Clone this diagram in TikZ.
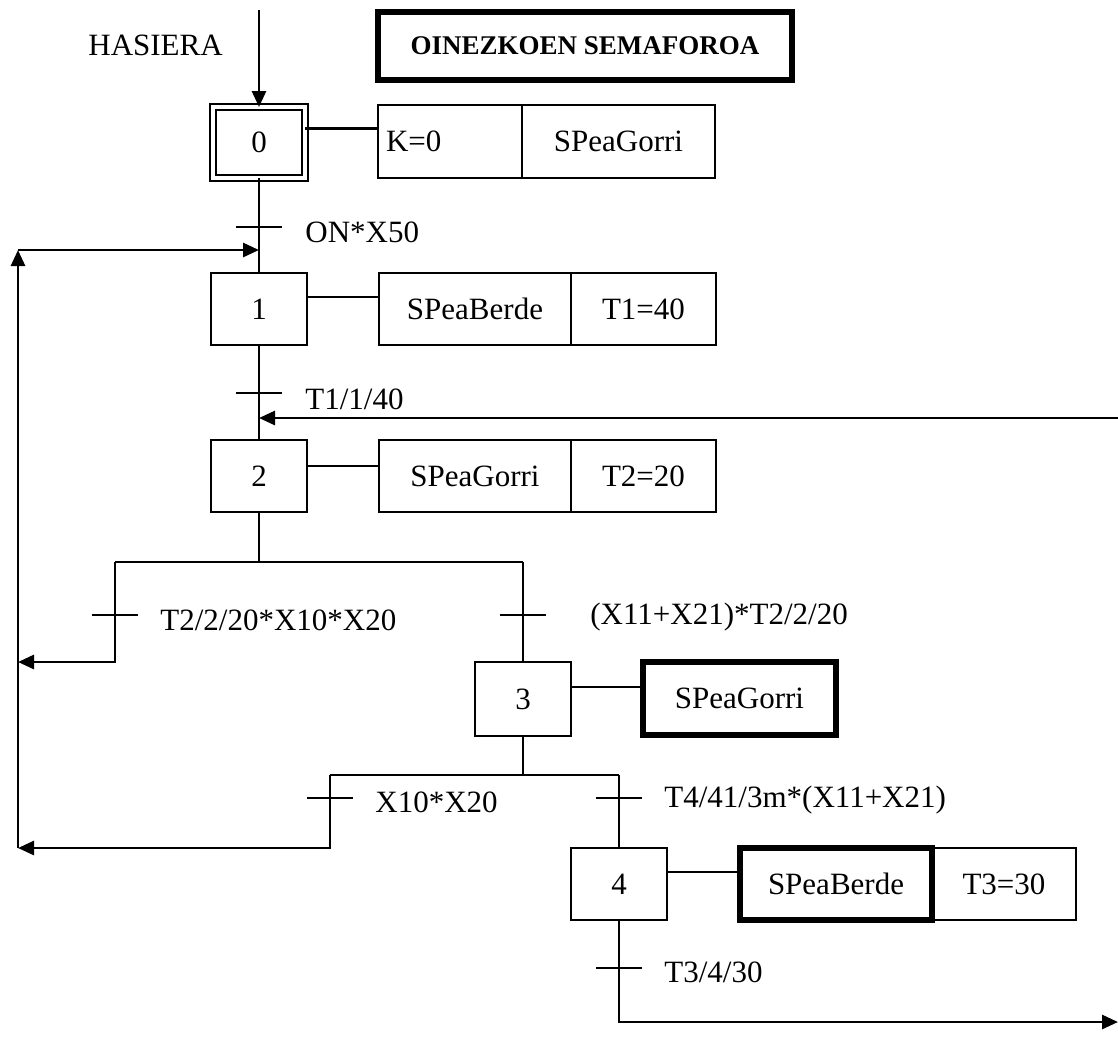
\documentclass[tikz,border=0pt]{standalone}
\usepackage{fontspec}
\setmainfont{Liberation Serif}
\usetikzlibrary{arrows.meta,calc}
\begin{document}
\begin{tikzpicture}[x=0.5pt,y=-0.5pt,
  font=\fontsize{15.5}{18}\selectfont,
  ln/.style={line width=1.4pt},
  stepbox/.style={draw,line width=1.4pt,minimum width=48pt,minimum height=36pt,inner sep=0pt,outer sep=0pt},
  actbox/.style={draw,line width=1.4pt,minimum height=36pt,inner sep=0pt,outer sep=0pt},
  boldbox/.style={actbox,line width=2.6pt},
  arr/.style={ln,-{Triangle[length=8pt,width=7pt]}},
  lbl/.style={anchor=west,inner sep=0pt},
  tickbar/.style={ln},
]
\useasboundingbox (0,0) rectangle (1118,1046);

% title and start
\node[lbl] (hasiera) at (88,45) {HASIERA};
\node[draw,line width=3.2pt,minimum width=207pt,minimum height=34pt,inner sep=0pt,
      font=\fontsize{13.5}{16}\selectfont\bfseries] (title) at (585,46) {OINEZKOEN SEMAFOROA};
\coordinate (start) at (259,10);

% steps
\node[stepbox,double,line width=1.1pt,double distance=1.8pt,minimum width=46pt,minimum height=35.5pt] (s0) at (259,142.5) {0};
\node[stepbox] (s1) at (259,309) {1};
\node[stepbox] (s2) at (259,476) {2};
\node[stepbox,minimum height=37pt] (s3) at (523,699) {3};
\node[stepbox] (s4) at (619,884) {4};

% actions
\node[actbox,minimum height=36.5pt,text width=64pt,inner xsep=4pt,align=left] (a0a) at (450,141.5) {K=0};
\node[actbox,minimum height=36.5pt,minimum width=96.5pt,anchor=west] (a0b) at (a0a.east) {SPeaGorri};
\node[actbox,minimum width=96pt] (a1a) at (475,309) {SPeaBerde};
\node[actbox,minimum width=72.5pt,anchor=west] (a1b) at (a1a.east) {T1=40};
\node[actbox,minimum width=96pt] (a2a) at (475,476) {SPeaGorri};
\node[actbox,minimum width=72.5pt,anchor=west] (a2b) at (a2a.east) {T2=20};
\node[boldbox,minimum width=96.5pt,minimum height=36.5pt] (a3) at (739.5,698.5) {SPeaGorri};
\node[actbox,minimum width=72pt] (a4b) at (1004,884) {T3=30};
\node[boldbox,minimum width=96pt] (a4a) at (836,884) {SPeaBerde};

% step-action links
\coordinate (c0) at ([yshift=7pt]s0.east);
\coordinate (c1) at ([yshift=6pt]s1.east);
\coordinate (c2) at ([yshift=5pt]s2.east);
\coordinate (c3) at ([yshift=6pt]s3.east);
\coordinate (c4) at ([yshift=6pt]s4.east);
\draw[ln] (c0) -- (c0 -| a0a.west);
\draw[ln] (c1) -- (c1 -| a1a.west);
\draw[ln] (c2) -- (c2 -| a2a.west);
\draw[ln] (c3) -- (c3 -| a3.west);
\draw[ln] (c4) -- (c4 -| a4a.west);

% main line
\draw[arr] (start) -- (s0.north);
\draw[ln] (s0.south) -- (s1.north);
\draw[ln] (s1.south) -- (s2.north);

% transitions on main line
\coordinate (t01) at (259,227);
\draw[tickbar] ([xshift=-11.5pt]t01) -- ([xshift=11.5pt]t01);
\node[lbl] (l01) at (305,232) {ON*X50};
\coordinate (t12) at (259,393);
\draw[tickbar] ([xshift=-11.5pt]t12) -- ([xshift=11.5pt]t12);
\node[lbl] (l12) at (305,399) {T1/1/40};

% feedback from right
\coordinate (rin) at (1118,418);
\coordinate (j2) at (259,418);
\draw[arr] (rin) -- (j2);

% left return line
\coordinate (fbT) at (18,250);
\coordinate (fbB) at (18,848);
\coordinate (j1) at (259,250);
\draw[arr] (fbB) -- (fbT);
\draw[arr] (fbT) -- (j1);

% first divergence
\coordinate (d1) at (259,562);
\coordinate (d1L) at (115,562);
\coordinate (d1R) at (523,562);
\coordinate (e1) at (115,662);
\coordinate (e1t) at (18,662);
\draw[ln] (s2.south) -- (d1);
\draw[ln] (d1L) -- (d1R);
\draw[arr] (d1L) -- (e1) -- (e1t);
\draw[ln] (d1R) -- (s3.north);
\coordinate (t2a) at (115,615);
\draw[tickbar] ([xshift=-11.5pt]t2a) -- ([xshift=11.5pt]t2a);
\node[lbl] (l2a) at (160,620) {T2/2/20*X10*X20};
\coordinate (t2b) at (523,615);
\draw[tickbar] ([xshift=-11.5pt]t2b) -- ([xshift=11.5pt]t2b);
\node[lbl] (l2b) at (590,617) {(X11+X21)*T2/2/20};

% second divergence
\coordinate (d2) at (523,775);
\coordinate (d2L) at (330,775);
\coordinate (d2R) at (619,775);
\coordinate (e2) at (330,848);
\draw[ln] (s3.south) -- (d2);
\draw[ln] (d2L) -- (d2R);
\draw[arr] (d2L) -- (e2) -- (fbB);
\draw[ln] (d2R) -- (s4.north);
\coordinate (t3a) at (330,798);
\draw[tickbar] ([xshift=-11.5pt]t3a) -- ([xshift=11.5pt]t3a);
\node[lbl] (l3a) at (375,802) {X10*X20};
\coordinate (t3b) at (619,798);
\draw[tickbar] ([xshift=-11.5pt]t3b) -- ([xshift=11.5pt]t3b);
\node[lbl] (l3b) at (664,800) {T4/41/3m*(X11+X21)};

% exit from step 4
\coordinate (b4) at (619,1022);
\coordinate (rout) at (1118,1022);
\draw[arr] (s4.south) -- (b4) -- (rout);
\coordinate (t4) at (619,968);
\draw[tickbar] ([xshift=-11.5pt]t4) -- ([xshift=11.5pt]t4);
\node[lbl] (l4) at (664,972) {T3/4/30};
\end{tikzpicture}
\end{document}
